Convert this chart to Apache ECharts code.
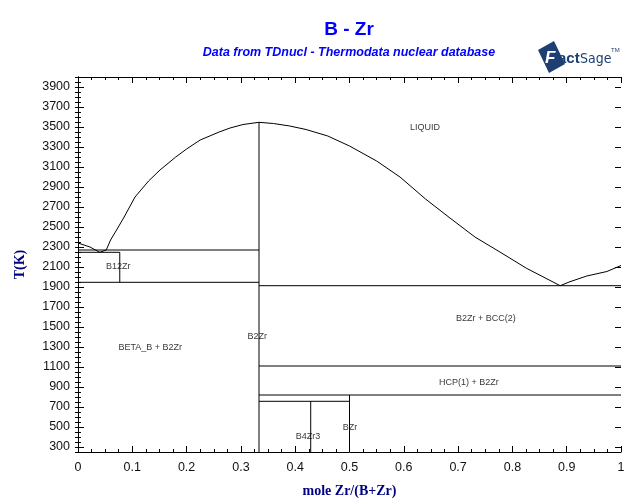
<!DOCTYPE html>
<html>
<head>
<meta charset="utf-8">
<script src="https://cdn.jsdelivr.net/npm/echarts@6/dist/echarts.min.js"></script>
<style>
html,body{margin:0;padding:0;background:#fff;}
#chart{width:640px;height:504px;}
</style>
</head>
<body>
<div id="chart"></div>
<script>
// ---- Data (mole fraction Zr, temperature K) ----
const liquidusX = [0, 0.022, 0.04, 0.052, 0.06, 0.071, 0.085, 0.105, 0.13, 0.151, 0.18, 0.2, 0.225, 0.26, 0.28, 0.304, 0.3333,
                   0.36, 0.39, 0.42, 0.46, 0.5, 0.55, 0.593, 0.64, 0.685, 0.731, 0.777, 0.826, 0.888];
const liquidusT = [2340, 2300, 2247, 2270, 2370, 2470, 2600, 2800, 2960, 3070, 3200, 3280, 3370, 3450, 3490, 3525, 3547,
                   3535, 3510, 3475, 3410, 3310, 3160, 3000, 2780, 2590, 2400, 2250, 2087, 1913];
const bccLiquidusX = [0.888, 0.906, 0.937, 0.974, 1.0];
const bccLiquidusT = [1913, 1953, 2010, 2055, 2115];

// invariant (horizontal) lines
const invariantT    = [2270, 2247, 1947, 1913, 1110, 820, 757];
const invariantFrom = [0, 0, 0, 1/3, 1/3, 1/3, 1/3];
const invariantTo   = [1/3, 1/13, 1/3, 1, 1, 1, 0.5];

// compounds (vertical lines)
const compoundX      = [1/13, 1/3, 3/7, 0.5];
const compoundTop    = [2247, 3547, 757, 820];
const compoundBottom = [1947, 250, 250, 250];

// phase-field labels
const labelText = ['LIQUID', 'B12Zr', 'BETA_B + B2Zr', 'B2Zr', 'B2Zr + BCC(2)', 'HCP(1) + B2Zr', 'B4Zr3', 'BZr'];
const labelX    = [0.639, 0.074, 0.133, 0.33, 0.751, 0.72, 0.4236, 0.501];
const labelT    = [3490, 2100, 1290, 1400, 1580, 940, 400, 490];

// axis ticks
const xTickLabels = ['0','0.1','0.2','0.3','0.4','0.5','0.6','0.7','0.8','0.9','1'];
const yMin = 250, yMax = 4000, yLabelStart = 300, yLabelStep = 200;

// ---- Build series ----
const black = '#000';
function lineSeries(pts) {
  return {
    type: 'line', xAxisIndex: 0, yAxisIndex: 0, data: pts, showSymbol: false, symbol: 'none',
    lineStyle: { color: black, width: 1 }, silent: true, animation: false, clip: true
  };
}
const series = [];
series.push(lineSeries(liquidusX.map((x, i) => [x, liquidusT[i]])));
series.push(lineSeries(bccLiquidusX.map((x, i) => [x, bccLiquidusT[i]])));
invariantT.forEach((t, i) => series.push(lineSeries([[invariantFrom[i], t], [invariantTo[i], t]])));
compoundX.forEach((x, i) => series.push(lineSeries([[x, compoundTop[i]], [x, compoundBottom[i]]])));
series.push({
  type: 'scatter', xAxisIndex: 0, yAxisIndex: 0, symbolSize: 0, silent: true, animation: false,
  data: labelText.map((n, i) => ({ name: n, value: [labelX[i], labelT[i]] })),
  label: { show: true, position: 'inside', formatter: p => p.name, color: '#000',
           fontFamily: 'Arial, "Liberation Sans", sans-serif', fontSize: 9 }
});

const tickFont = { color: '#111', fontFamily: 'Arial, "Liberation Sans", sans-serif', fontSize: 12.5 };
const nameFont = { color: '#000080', fontFamily: '"Times New Roman", "Liberation Serif", serif', fontWeight: 'bold', fontSize: 14 };

const option = {
  animation: false,
  backgroundColor: '#fff',
  grid: [
    { left: 78, right: 19, top: 77, bottom: 52 },
    { left: 78, right: 19, top: 77, bottom: 57 }
  ],
  xAxis: [
    { type: 'value', gridIndex: 0, position: 'bottom', min: 0, max: 1, interval: 0.1,
      axisLine: { show: true, lineStyle: { color: black, width: 1 } },
      axisTick: { show: true, inside: true, length: 6, lineStyle: { color: black } },
      minorTick: { show: true, splitNumber: 4, length: 3, lineStyle: { color: black } },
      splitLine: { show: false },
      axisLabel: Object.assign({ margin: 9, formatter: v => xTickLabels[Math.round(v * 10)] }, tickFont),
      name: 'mole Zr/(B+Zr)', nameLocation: 'middle', nameGap: 32, nameTextStyle: nameFont },
    { type: 'value', gridIndex: 0, position: 'top', min: 0, max: 1, interval: 0.1,
      axisLine: { show: true, lineStyle: { color: black, width: 1 } },
      axisTick: { show: true, inside: true, length: 6, lineStyle: { color: black } },
      minorTick: { show: true, splitNumber: 4, length: 3, lineStyle: { color: black } },
      splitLine: { show: false }, axisLabel: { show: false } },
    { type: 'value', gridIndex: 1, min: 0, max: 1, show: false }
  ],
  yAxis: [
    { type: 'value', gridIndex: 0, position: 'left', min: yMin, max: yMax, interval: 50,
      axisLine: { show: true, lineStyle: { color: black, width: 1 } },
      axisTick: { show: true, inside: true, length: 3, lineStyle: { color: black } },
      splitLine: { show: false }, axisLabel: { show: false },
      name: 'T(K)', nameLocation: 'middle', nameGap: 51, nameRotate: 90, nameTextStyle: nameFont },
    { type: 'value', gridIndex: 0, position: 'right', min: yMin, max: yMax, interval: 50,
      axisLine: { show: true, lineStyle: { color: black, width: 1 } },
      axisTick: { show: true, inside: true, length: 3, lineStyle: { color: black } },
      splitLine: { show: false }, axisLabel: { show: false } },
    { type: 'value', gridIndex: 1, position: 'left', min: yLabelStart, max: yMax, interval: yLabelStep,
      axisLine: { show: false },
      axisTick: { show: true, inside: true, length: 6, lineStyle: { color: black } },
      splitLine: { show: false },
      axisLabel: Object.assign({ margin: 8, formatter: v => (v > 3900 ? '' : String(v)) }, tickFont) },
    { type: 'value', gridIndex: 1, position: 'right', min: yLabelStart, max: yMax, interval: yLabelStep,
      axisLine: { show: false },
      axisTick: { show: true, inside: true, length: 6, lineStyle: { color: black } },
      splitLine: { show: false }, axisLabel: { show: false } }
  ],
  graphic: [
    { type: 'text', x: 349, y: 30, style: { text: 'B - Zr', fill: '#0000ff',
      font: 'bold 19px Arial, "Liberation Sans", sans-serif', textAlign: 'center', textVerticalAlign: 'middle' } },
    { type: 'text', x: 349, y: 53, style: { text: 'Data from TDnucl - Thermodata nuclear database', fill: '#0000ff',
      font: 'italic bold 12.5px Arial, "Liberation Sans", sans-serif', textAlign: 'center', textVerticalAlign: 'middle' } },
    // FactSage logo
    { type: 'polygon', shape: { points: [[538, 50], [554, 41], [565, 64], [549, 73]] }, style: { fill: '#1d3f74' } },
    { type: 'text', x: 545, y: 58, style: { text: 'F', fill: '#ffffff', font: 'bold italic 17px Arial, sans-serif',
      textVerticalAlign: 'middle' } },
    { type: 'text', x: 558, y: 59, style: { text: 'act', fill: '#1d3f74', font: 'bold 15px Arial, sans-serif',
      textVerticalAlign: 'middle' } },
    { type: 'text', x: 580, y: 59, style: { text: 'Sage', fill: '#1d3f74', font: '14px "Liberation Sans Narrow", "DejaVu Sans Condensed", Arial, sans-serif',
      textVerticalAlign: 'middle' } },
    { type: 'text', x: 611, y: 47, style: { text: 'TM', fill: '#1d3f74', font: '6px Arial, sans-serif' } }
  ],
  series: series
};

const chart = echarts.init(document.getElementById('chart'), null, { renderer: 'canvas' });
chart.setOption(option);
</script>
</body>
</html>
